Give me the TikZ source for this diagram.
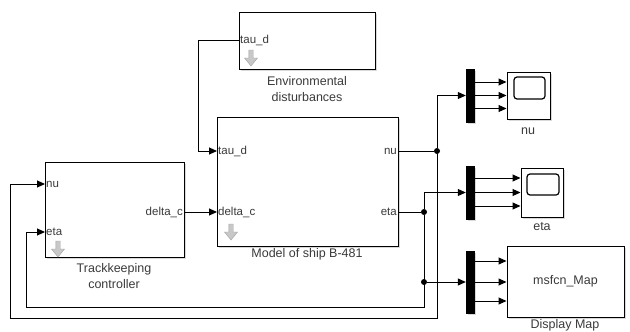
\documentclass[tikz,border=0pt]{standalone}
\usepackage{fontspec}
\setmainfont{Liberation Sans}
\usetikzlibrary{arrows.meta,shadows}
\definecolor{LabelGray}{HTML}{3A3A3A}
\definecolor{IconGray}{HTML}{C8C8C8}

\tikzset{
  block/.style={draw,fill=white,line width=1pt,inner sep=0pt,
    drop shadow={shadow xshift=2pt,shadow yshift=-2pt,opacity=0.3,fill=gray}},
  demuxbar/.style={fill=black,draw=black,inner sep=0pt,minimum width=8pt,
    drop shadow={shadow xshift=2pt,shadow yshift=-2pt,opacity=0.3,fill=gray}},
  portlbl/.style={font=\fontsize{11.5}{13}\selectfont,text=LabelGray,inner sep=1pt},
  blklbl/.style={font=\fontsize{12.5}{16}\selectfont,text=LabelGray,align=center,inner sep=0pt},
  wire/.style={line width=1pt},
  sig/.style={wire,-{Triangle[length=8pt,width=7pt]}},
  junc/.style={circle,fill=black,inner sep=0pt,minimum size=6pt},
  maskarr/.pic={
    \filldraw[fill=IconGray,draw=IconGray!80!black,line width=0.4pt]
      (-2.2,0) -- (2.2,0) -- (2.2,8) -- (6.5,8) -- (0,16) -- (-6.5,8) -- (-2.2,8) -- cycle;
  }
}

\begin{document}
\begin{tikzpicture}[x=1pt,y=-1pt]
  \useasboundingbox (0,0) rectangle (630,332);

  % blocks
  \node[block,minimum width=139pt,minimum height=95pt] (ctrl) at (114.5,209.5) {};
  \node[block,minimum width=136pt,minimum height=57pt] (env) at (307,40.5) {};
  \node[block,minimum width=181pt,minimum height=129pt] (ship) at (307.5,181.5) {};
  \node[demuxbar,minimum height=53pt] (numux) at (470,95.5) {};
  \node[demuxbar,minimum height=53pt] (etamux) at (470,192.5) {};
  \node[demuxbar,minimum height=62pt] (mapmux) at (470,282) {};
  \node[block,minimum width=43pt,minimum height=47pt] (nuscope) at (528.5,95.5) {};
  \node[block,minimum width=42pt,minimum height=49pt] (etascope) at (542,192.5) {};
  \node[block,minimum width=117pt,minimum height=71pt] (map) at (565.5,281.5)
    {\fontsize{12.5}{14}\selectfont\color{LabelGray}msfcn\_Map};

  % scope screens
  \draw[line width=1.2pt,rounded corners=3pt] (514,77) rectangle (545,99);
  \draw[line width=1.2pt,rounded corners=3pt] (527,174) rectangle (559,195);

  % mask icons
  \pic at (58,241) {maskarr};
  \pic at (251,50) {maskarr};
  \pic at (231,224) {maskarr};

  % block names
  \node[blklbl] (ctrlname) at (114,276) {Trackkeeping\\controller};
  \node[blklbl] (envname) at (307,89) {Environmental\\disturbances};
  \node[blklbl] (shipname) at (307,254) {Model of ship B-481};
  \node[blklbl] (nuname) at (528,131) {nu};
  \node[blklbl] (etaname) at (542,227) {eta};
  \node[blklbl,anchor=south] (mapname) at (565,331.5) {Display Map};

  % ports
  \coordinate (ctrl-nu) at (45,184);
  \coordinate (ctrl-eta) at (45,232);
  \coordinate (ctrl-dc) at (184,212);
  \coordinate (env-tau) at (239,40);
  \coordinate (ship-tau) at (217,151);
  \coordinate (ship-dc) at (217,212);
  \coordinate (ship-nu) at (398,151);
  \coordinate (ship-eta) at (398,212);
  \node[portlbl,anchor=west] (lnu1) at (ctrl-nu) {nu};
  \node[portlbl,anchor=west] (leta1) at (ctrl-eta) {eta};
  \node[portlbl,anchor=east] (ldc1) at (ctrl-dc) {delta\_c};
  \node[portlbl,anchor=west] (ltau1) at (env-tau) {tau\_d};
  \node[portlbl,anchor=west] (ltau2) at (ship-tau) {tau\_d};
  \node[portlbl,anchor=west] (ldc2) at (ship-dc) {delta\_c};
  \node[portlbl,anchor=east] (lnu2) at (ship-nu) {nu};
  \node[portlbl,anchor=east] (leta2) at (ship-eta) {eta};

  % branch points
  \node[junc] (jnu) at (437,151) {};
  \node[junc] (jeta) at (424,212) {};
  \node[junc] (jmap) at (424,282) {};
  \coordinate (nubot) at (437,318);
  \coordinate (etabot) at (424,307);

  % wiring
  \draw[sig] (env-tau) -- (198,40) |- (ship-tau);
  \draw[sig] (ctrl-dc) -- (ship-dc);
  \draw[wire] (ship-nu) -- (jnu);
  \draw[wire] (ship-eta) -- (jeta);
  \draw[sig] (jnu) |- (numux.west);
  \draw[sig] (jeta) |- (etamux.west);
  \draw[sig] (jmap) -- (mapmux.west);
  \draw[sig] (jnu) -- (nubot) -| (10,184) -- (ctrl-nu);
  \draw[sig] (jeta) -- (etabot) -| (26,232) -- (ctrl-eta);

  % demux outputs
  \foreach \y in {82,95.5,108.5} \draw[sig] (numux.east |- 0,\y) -- (nuscope.west |- 0,\y);
  \foreach \y in {178,192.5,206} \draw[sig] (etamux.east |- 0,\y) -- (etascope.west |- 0,\y);
  \foreach \y in {261,282,301} \draw[sig] (mapmux.east |- 0,\y) -- (map.west |- 0,\y);
\end{tikzpicture}
\end{document}
